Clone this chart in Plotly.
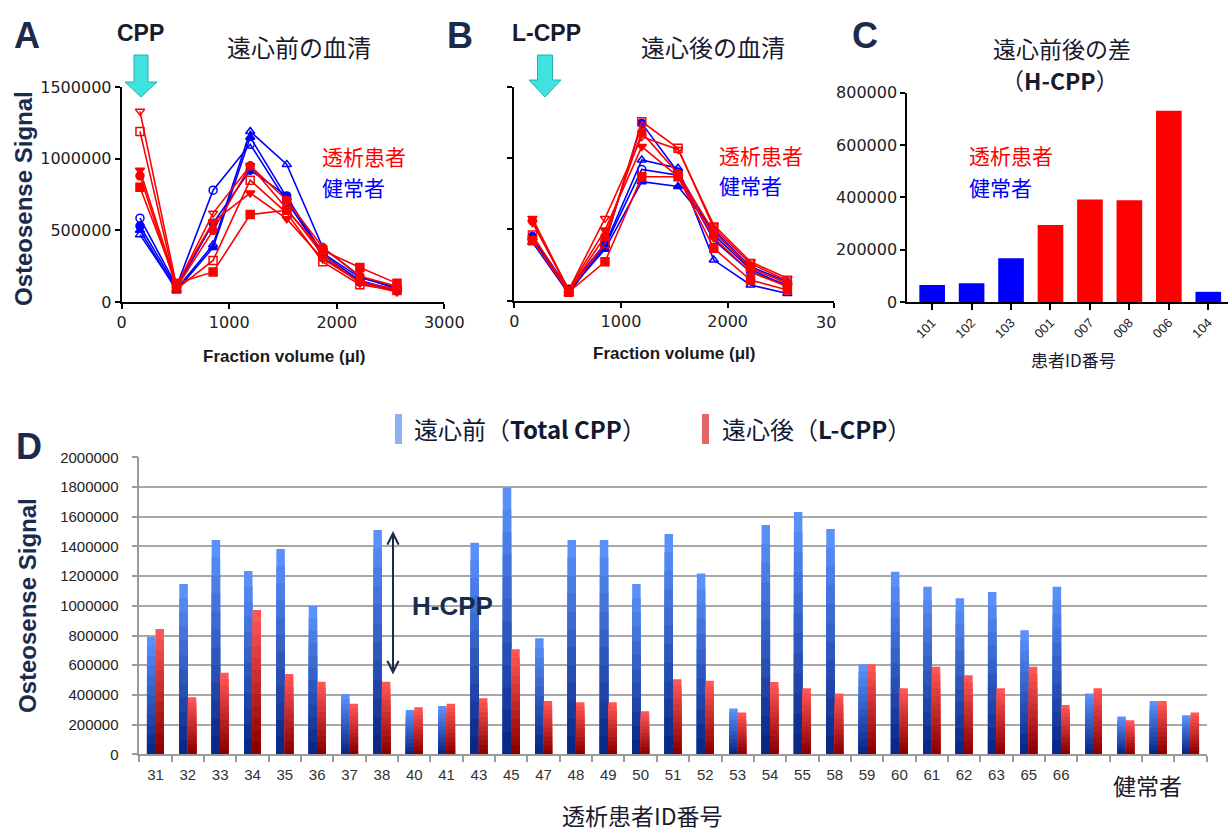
import plotly.graph_objects as go

W, H = 1229, 831
def px(x): return x / W
def py(y): return 1 - y / H

# ---------------- data ----------------
frac_x = [170, 510, 850, 1195, 1535, 1870, 2215, 2560]

# Panel A (before centrifugation)
A_red = [
    [1330000, 110000, 620000, 950000, 650000, 330000, 130000, 70000],
    [1190000, 90000, 290000, 850000, 620000, 280000, 120000, 80000],
    [920000, 120000, 560000, 760000, 580000, 300000, 140000, 90000],
    [880000, 100000, 500000, 950000, 710000, 380000, 180000, 110000],
    [800000, 130000, 210000, 610000, 640000, 360000, 240000, 130000],
]
A_blue = [
    [585000, 110000, 780000, 1100000, 700000, 330000, 150000, 80000],
    [470000, 90000, 400000, 1190000, 960000, 380000, 180000, 90000],
    [500000, 80000, 380000, 1150000, 730000, 340000, 170000, 100000],
    [530000, 100000, 550000, 920000, 740000, 310000, 140000, 80000],
]
# Panel B (after centrifugation)
B_red = [
    [577000, 75000, 577000, 1150000, 1060000, 530000, 273000, 157000],
    [460000, 65000, 400000, 1255000, 1068000, 510000, 260000, 140000],
    [547000, 80000, 495000, 1080000, 870000, 440000, 200000, 100000],
    [560000, 70000, 450000, 1180000, 890000, 480000, 230000, 120000],
    [420000, 60000, 273000, 869000, 869000, 367000, 145000, 75000],
]
B_blue = [
    [430000, 60000, 380000, 920000, 880000, 425000, 200000, 110000],
    [410000, 50000, 390000, 986000, 928000, 285000, 110000, 51000],
    [440000, 70000, 360000, 834000, 800000, 495000, 238000, 133000],
    [450000, 80000, 402000, 1243000, 900000, 460000, 220000, 100000],
]
red_symbols = ['triangle-down-open', 'square-open', 'triangle-down', 'circle', 'square']
blue_symbols = ['circle-open', 'triangle-up-open', 'triangle-up', 'circle']

# Panel C (difference, H-CPP)
C_ids = ['101', '102', '103', '001', '007', '008', '006', '104']
C_vals = [65000, 71500, 167000, 294000, 392000, 389000, 731000, 39000]
C_group = ['健常者', '健常者', '健常者', '透析患者', '透析患者', '透析患者', '透析患者', '健常者']

# Panel D
D_ids = ['31', '32', '33', '34', '35', '36', '37', '38', '40', '41', '43', '45', '47', '48',
         '49', '50', '51', '52', '53', '54', '55', '58', '59', '60', '61', '62', '63', '65',
         '66', 'H1', 'H2', 'H3', 'H4']
D_ticktext = [i if not i.startswith('H') else '' for i in D_ids]
D_before = [792000, 1147000, 1443000, 1235000, 1383000, 999000, 406000, 1511000, 299000,
            325000, 1425000, 1796000, 781000, 1443000, 1443000, 1147000, 1484000, 1217000,
            308000, 1544000, 1632000, 1517000, 606000, 1230000, 1129000, 1050000, 1093000,
            835000, 1129000, 409000, 254000, 359000, 263000]
D_after = [844000, 384000, 550000, 972000, 541000, 489000, 341000, 489000, 316000, 341000,
           377000, 707000, 359000, 350000, 350000, 290000, 505000, 496000, 281000, 487000,
           444000, 409000, 606000, 444000, 590000, 532000, 444000, 590000, 332000, 444000,
           229000, 359000, 281000]

# ---------------- styles ----------------
RED = '#ff0000'
BLUE = '#0000ff'
NAVY = '#1a2b4c'
LAT = 'Liberation Sans, Arial, Noto Sans CJK JP'
WIDE = 'DejaVu Sans, Liberation Sans'
CJK = 'Noto Sans CJK JP, Liberation Sans'

fig = go.Figure()

def add_lines(series, symbols, color, xa, ya):
    for vals, sym in zip(series, symbols):
        fig.add_trace(go.Scatter(
            x=frac_x, y=vals, mode='lines+markers', xaxis=xa, yaxis=ya,
            line=dict(color=color, width=1.6),
            marker=dict(symbol=sym, size=8, color=color, line=dict(color=color, width=1.5)),
            cliponaxis=False, showlegend=False))

add_lines(A_blue, blue_symbols, BLUE, 'x', 'y')
add_lines(A_red, red_symbols, RED, 'x', 'y')
add_lines(B_blue, blue_symbols, BLUE, 'x2', 'y2')
add_lines(B_red, red_symbols, RED, 'x2', 'y2')

fig.add_trace(go.Bar(
    x=C_ids, y=C_vals, xaxis='x3', yaxis='y3', width=0.65,
    marker=dict(color=[RED if g == '透析患者' else BLUE for g in C_group], line=dict(width=0)),
    showlegend=False))

# Panel D: vertical gradient bars built from layered copies of each series
def lerp(c1, c2, t):
    a = [int(c1[i:i + 2], 16) for i in (1, 3, 5)]
    b = [int(c2[i:i + 2], 16) for i in (1, 3, 5)]
    return '#%02x%02x%02x' % tuple(round(a[k] + (b[k] - a[k]) * t) for k in range(3))

N = 12
for name, vals, light, dark in [('遠心前', D_before, '#5a90fa', '#0a2888'),
                                 ('遠心後', D_after, '#ff5555', '#8c0000')]:
    for k in range(N):
        f = 1 - k / N
        fig.add_trace(go.Bar(
            x=D_ids, y=[v * f for v in vals], xaxis='x4', yaxis='y4',
            offsetgroup=name, marker=dict(color=lerp(light, dark, k / (N - 1)), line=dict(width=0)),
            showlegend=False, hoverinfo='skip' if k else None))

# ---------------- axes ----------------
def line_axis(dom, rng, **kw):
    d = dict(domain=dom, range=rng, showgrid=False, zeroline=False, showline=True,
             linecolor='black', linewidth=2, ticks='outside', tickcolor='black',
             tickwidth=2, ticklen=5, tickformat='d',
             tickfont=dict(family=WIDE, size=16, color='#222'))
    d.update(kw)
    return d

layout = dict(
    width=W, height=H, autosize=False,
    margin=dict(l=0, r=0, t=0, b=0),
    paper_bgcolor='white', plot_bgcolor='rgba(0,0,0,0)',
    template='none', barmode='group', bargap=0.475, bargroupgap=0,
    font=dict(family=LAT, color='#222'),
    showlegend=False,
)
layout['xaxis'] = line_axis([px(121.7), px(444.3)], [0, 3000], anchor='y',
                            tickvals=[0, 1000, 2000, 3000])
layout['yaxis'] = line_axis([py(302), py(87)], [0, 1500000], anchor='x',
                            tickvals=[0, 500000, 1000000, 1500000])
layout['xaxis2'] = line_axis([px(514.3), px(834.3)], [0, 3000], anchor='y2',
                             tickvals=[0, 1000, 2000, 3000], ticktext=['0', '1000', '2000', ''])
layout['yaxis2'] = line_axis([py(300.7), py(86.7)], [0, 1500000], anchor='x2',
                             tickvals=[0, 500000, 1000000, 1500000], showticklabels=False)
layout['xaxis3'] = line_axis([px(907.3), px(1228)], [-0.63, 7.5], anchor='y3', type='category',
                             tickangle=-45, ticklen=6, tickformat=None,
                             tickfont=dict(family=LAT, size=13, color='#222'))
layout['yaxis3'] = line_axis([py(302), py(92.7)], [0, 800000], anchor='x3',
                             tickvals=[0, 200000, 400000, 600000, 800000])
layout['xaxis4'] = dict(domain=[px(139.3), px(1206.7)], anchor='y4', type='category',
                        range=[-0.5, 32.5], showgrid=False, zeroline=False, showline=True,
                        linecolor='#9a9a9a', linewidth=1.5, ticks='outside', tickson='boundaries',
                        tickcolor='#9a9a9a', tickwidth=1.5, ticklen=6, tickmode='array',
                        tickvals=D_ids, ticktext=D_ticktext, ticklabelstandoff=6,
                        tickfont=dict(family=LAT, size=15, color='#333'))
layout['yaxis4'] = dict(domain=[py(754.3), py(457.3)], anchor='x4', range=[0, 2000000],
                        tickvals=[i * 200000 for i in range(11)], tickformat='d', showgrid=True,
                        gridcolor='#a8a8a8', gridwidth=1.5, zeroline=False, showline=True,
                        linecolor='#9a9a9a', linewidth=1.5, ticks='outside', tickcolor='#9a9a9a',
                        tickwidth=1.5, ticklen=6, ticklabelstandoff=10,
                        tickfont=dict(family=LAT, size=15, color='#222'))

# ---------------- annotations ----------------
anns = []
def ann(text, x, y, size, color=NAVY, family=CJK, xanchor='center', angle=0):
    anns.append(dict(text=text, x=px(x), y=py(y), xref='paper', yref='paper', showarrow=False,
                     xanchor=xanchor, yanchor='middle', textangle=angle,
                     font=dict(family=family, size=size, color=color)))

# panel letters
ann('<b>A</b>', 27, 36, 36, family=LAT)
ann('<b>B</b>', 460, 36, 36, family=LAT)
ann('<b>C</b>', 865, 36, 36, family=LAT)
ann('<b>D</b>', 29, 446, 36, family=LAT)
# panel A
ann('<b>CPP</b>', 140, 33, 23, color='#1a1a2e', family=LAT)
ann('遠心前の血清', 299, 47, 24, color='#1a1a2e')
ann('透析患者', 320, 156, 21, color=RED, xanchor='left')
ann('健常者', 320, 187, 21, color=BLUE, xanchor='left')
ann('<b>Osteosense Signal</b>', 23, 199, 24, family=LAT, angle=-90)
ann('<b>Fraction volume (μl)</b>', 284, 356, 17, color='#1a1a1a', family=LAT)
# panel B
ann('<b>L-CPP</b>', 546, 33, 23, color='#1a1a2e', family=LAT)
ann('遠心後の血清', 713, 47, 24, color='#1a1a2e')
ann('透析患者', 717, 155, 21, color=RED, xanchor='left')
ann('健常者', 717, 185, 21, color=BLUE, xanchor='left')
ann('<b>Fraction volume (μl)</b>', 674, 353, 17, color='#1a1a1a', family=LAT)
ann('30', 814, 322, 16, color='#222', family=WIDE, xanchor='left')
# panel C
ann('遠心前後の差', 1062, 48, 23, color='#1a1a2e')
ann('（<b>H-CPP</b>）', 1060, 80, 23, color='#1a1a2e')
ann('透析患者', 967, 155, 21, color=RED, xanchor='left')
ann('健常者', 967, 187, 21, color=BLUE, xanchor='left')
ann('患者ID番号', 1073, 360, 17, color='#1a1a2e')
# panel D
ann('遠心前（<b>Total CPP</b>）', 412, 428, 24, color='#111a33', xanchor='left')
ann('遠心後（<b>L-CPP</b>）', 720, 428, 24, color='#111a33', xanchor='left')
ann('<b>Osteosense Signal</b>', 27, 606, 24, family=LAT, angle=-90)
ann('<b>H-CPP</b>', 452, 606, 26, family=LAT)
ann('透析患者ID番号', 642, 815, 23, color='#1a1a2e')
ann('健常者', 1147, 785, 23, color='#1a1a2e')
# double-headed arrow for H-CPP
anns.append(dict(x=px(393), y=py(531), ax=0, ay=145, xref='paper', yref='paper',
                 axref='pixel', ayref='pixel', text='', showarrow=True,
                 arrowhead=5, startarrowhead=5, arrowside='end+start',
                 arrowsize=1.1, startarrowsize=1.1, arrowwidth=2, arrowcolor=NAVY))
layout['annotations'] = anns

# ---------------- shapes ----------------
def path(points):
    return 'M' + ' L'.join('%.5f,%.5f' % (px(x), py(y)) for x, y in points) + ' Z'

def down_arrow(cx, sl, sr, top, hy, hl, hr, tip):
    return dict(type='path', xref='paper', yref='paper',
                path=path([(sl, top), (sr, top), (sr, hy), (hr, hy), (cx, tip), (hl, hy), (sl, hy)]),
                fillcolor='#40e2e0', line=dict(color='#23b0b0', width=1))

shapes = [
    down_arrow(141, 134, 148, 55, 82, 125, 157, 97),
    down_arrow(545, 537.5, 552.5, 55, 80, 529, 561, 97),
    dict(type='rect', xref='paper', yref='paper', x0=px(395), x1=px(402), y0=py(444), y1=py(414),
         fillcolor='#8db4f0', line=dict(width=0)),
    dict(type='rect', xref='paper', yref='paper', x0=px(702), x1=px(709), y0=py(444), y1=py(414),
         fillcolor='#e46666', line=dict(width=0)),
]
layout['shapes'] = shapes

fig.update_layout(**layout)
fig.write_html('out.html', config={'displayModeBar': False},
               post_script="document.body.style.margin='0';")
